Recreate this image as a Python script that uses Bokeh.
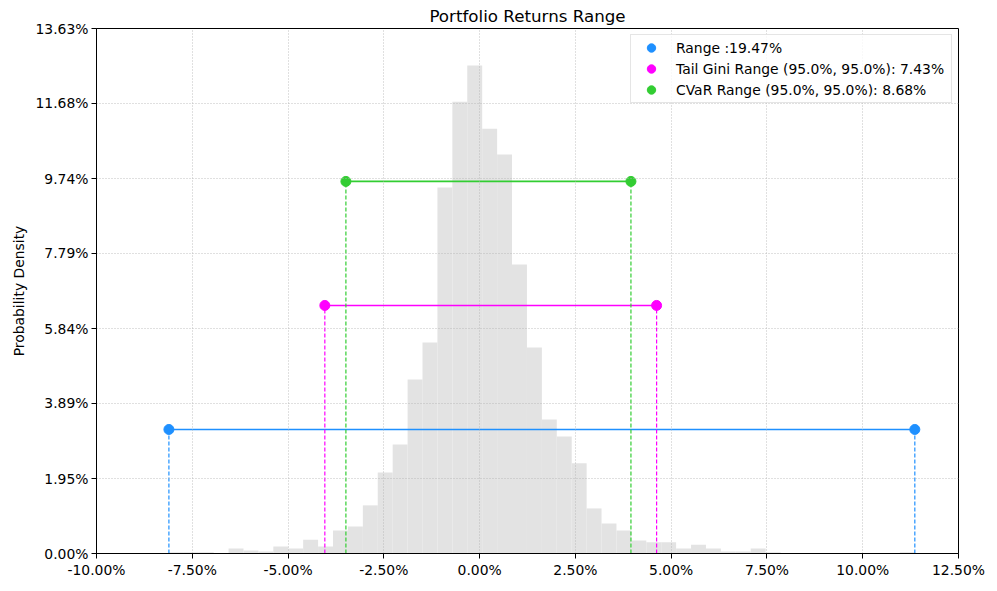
import numpy as np
from bokeh.plotting import figure
from bokeh.models import Range1d, FixedTicker, Legend, LegendItem, ColumnDataSource, CustomJSTickFormatter
from bokeh.embed import file_html
from bokeh.resources import INLINE

# ---- data (percent units) ----
ret_min, ret_max = -8.11, 11.36
density = [0.03, 0.03, 0.03, 0.0, 0.13, 0.08, 0.05, 0.18, 0.13, 0.36,
           0.18, 0.60, 0.70, 1.25, 2.10, 2.83, 4.52, 5.48, 9.50, 11.73,
           12.67, 11.03, 10.36, 7.50, 5.35, 3.48, 3.04, 2.34, 1.17, 0.78,
           0.60, 0.34, 0.29, 0.29, 0.13, 0.23, 0.13, 0.05, 0.05, 0.13,
           0.03, 0.0, 0.0, 0.0, 0.0, 0.0, 0.0, 0.0, 0.0, 0.03]
range_labels = ["Range :19.47%",
                "Tail Gini Range (95.0%, 95.0%): 7.43%",
                "CVaR Range (95.0%, 95.0%): 8.68%"]
range_lo = [-8.11, -4.04, -3.49]
range_hi = [11.36, 4.62, 3.95]
range_level = [3.22, 6.44, 9.66]
range_colors = ["#1e90ff", "#ff00ff", "#32cd32"]
x_ticks = [-10.0, -7.5, -5.0, -2.5, 0.0, 2.5, 5.0, 7.5, 10.0, 12.5]
y_ticks = [0.0, 1.9471, 3.8943, 5.8414, 7.7886, 9.7357, 11.6829, 13.63]

FONT = "DejaVu Sans"

edges = np.linspace(ret_min, ret_max, len(density) + 1)

p = figure(width=989, height=583, output_backend="svg", toolbar_location=None,
           x_range=Range1d(-10, 12.5), y_range=Range1d(0, 13.63),
           min_border_left=96, min_border_right=31, min_border_top=28, min_border_bottom=30,
           title="Portfolio Returns Range")
p.title.align = "center"
p.title.text_font = FONT
p.title.text_font_size = "16.7px"
p.title.text_font_style = "normal"
p.title.text_color = "black"
p.title.standoff = 6
p.title.offset = 0

p.outline_line_color = "black"
p.outline_line_alpha = 1
p.outline_line_width = 1

fmt = CustomJSTickFormatter(code="return tick.toFixed(2) + '%';")
for ax, ticks in ((p.xaxis, x_ticks), (p.yaxis, y_ticks)):
    ax.ticker = FixedTicker(ticks=ticks)
    ax.formatter = fmt
    ax.major_label_text_font = FONT
    ax.major_label_text_font_size = "13.9px"
    ax.major_label_text_color = "black"
    ax.axis_line_color = "black"
    ax.major_tick_line_color = "black"
    ax.major_tick_out = 5
    ax.major_tick_in = 0
    ax.minor_tick_out = 0
    ax.minor_tick_in = 0
    ax.major_label_standoff = 3
p.yaxis.axis_label = "Probability Density"
p.yaxis.axis_label_text_font = FONT
p.yaxis.axis_label_text_font_size = "13.9px"
p.yaxis.axis_label_text_font_style = "normal"
p.yaxis.axis_label_text_color = "black"
p.yaxis.axis_label_standoff = 6

p.grid.grid_line_color = "#b0b0b0"
p.grid.grid_line_dash = "1 2"
p.grid.grid_line_width = 0.8
p.grid.level = "glyph"

hist_src = ColumnDataSource(dict(left=edges[:-1], right=edges[1:], top=density,
                                 bottom=[0] * len(density)))
p.quad(left="left", right="right", top="top", bottom="bottom", source=hist_src,
       fill_color="#e3e3e3", line_color=None, level="underlay")

items = []
for lab, lo, hi, lev, col in zip(range_labels, range_lo, range_hi, range_level, range_colors):
    vsrc = ColumnDataSource(dict(x=[lo, hi], y0=[0, 0], y1=[lev, lev]))
    p.segment(x0="x", y0="y0", x1="x", y1="y1", source=vsrc, line_color=col,
              line_dash="4 2", line_width=1.2)
    p.segment(x0=[lo], y0=[lev], x1=[hi], y1=[lev], line_color=col, line_width=1.6)
    r = p.scatter(x=[lo, hi], y=[lev, lev], size=10, fill_color=col, line_color=col)
    items.append(LegendItem(label=lab, renderers=[r], index=0))

legend = Legend(items=items, location="top_right")
legend.label_text_font = FONT
legend.label_text_font_size = "13.9px"
legend.label_text_color = "black"
legend.glyph_width = 36
legend.glyph_height = 21
legend.label_height = 21
legend.label_width = 273
legend.spacing = 0
legend.padding = 2
legend.margin = 6
legend.label_standoff = 7
legend.border_line_color = "#cccccc"
legend.border_line_width = 1
legend.background_fill_alpha = 0.8
p.add_layout(legend)

open("out.html", "w").write(file_html(p, INLINE))
